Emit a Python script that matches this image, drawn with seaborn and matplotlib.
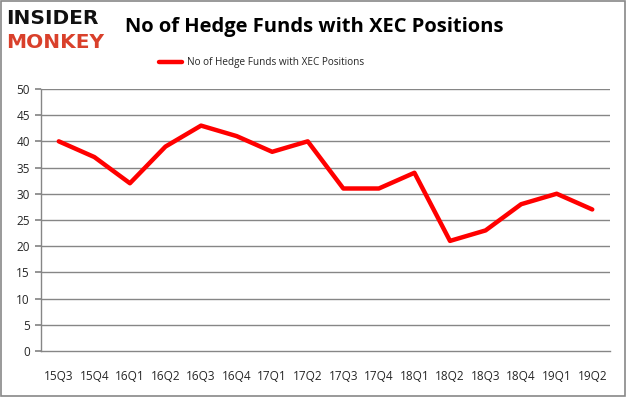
import matplotlib
matplotlib.use("Agg")
import matplotlib.pyplot as plt
import seaborn as sns
import pandas as pd
import numpy as np

quarters = ["15Q3", "15Q4", "16Q1", "16Q2", "16Q3", "16Q4", "17Q1", "17Q2",
            "17Q3", "17Q4", "18Q1", "18Q2", "18Q3", "18Q4", "19Q1", "19Q2"]
funds = [40, 37, 32, 39, 43, 41, 38, 40, 31, 31, 34, 21, 23, 28, 30, 27]
series_name = "No of Hedge Funds with XEC Positions"
yticks = [0, 5, 10, 15, 20, 25, 30, 35, 40, 45, 50]

sns.set_theme(style="white")
plt.rcParams['font.family'] = ['Open Sans', 'DejaVu Sans']

df = pd.DataFrame({"q": quarters, "v": funds, "pos": np.arange(len(quarters))})

fig = plt.figure(figsize=(6.26, 3.97), dpi=100)
ax = fig.add_axes([0.0655, 0.116, 0.909, 0.66])

for y in yticks[1:]:
    ax.axhline(y, color="#868686", lw=1.0, zorder=1)

sns.lineplot(data=df, x="pos", y="v", color="#ff0000", lw=3.2, ax=ax,
             label=series_name, zorder=3, legend=False)

ax.set_xlim(-0.5, len(quarters) - 0.5)
ax.set_ylim(0, 50)
ax.set_yticks(yticks)
ax.set_yticklabels([str(t) for t in yticks], fontsize=8.5)
ax.set_xticks(np.arange(len(quarters)))
ax.set_xticklabels(quarters, fontsize=8.5)
ax.set_xticks(np.arange(len(quarters) + 1) - 0.5, minor=True)
ax.tick_params(axis="x", which="major", length=0, pad=14)
ax.tick_params(axis="x", which="minor", length=4, color="#868686", direction="out")
ax.tick_params(axis="y", length=4, color="#868686", direction="out", pad=4, left=True)
ax.set_xlabel("")
ax.set_ylabel("")
for s in ["top", "right"]:
    ax.spines[s].set_visible(False)
for s in ["left", "bottom"]:
    ax.spines[s].set_color("#868686")
    ax.spines[s].set_linewidth(1.0)

# legend
fig.legend(handles=ax.get_lines()[-1:], labels=[series_name], loc="center",
           bbox_to_anchor=(0.418, 0.842), frameon=False, fontsize=7.2,
           handlelength=2.3, handletextpad=0.5)

# title
fig.text(0.2, 0.933, series_name, fontsize=14.5, fontweight="bold",
         ha="left", va="center", color="#000000")

# logo
fig.text(0.010, 0.953, "INSIDER", fontsize=14.5, fontweight="heavy",
         ha="left", va="center", color="#111111", family=["DejaVu Sans"])
fig.text(0.010, 0.893, "MONKEY", fontsize=14.5, fontweight="heavy",
         ha="left", va="center", color="#d9402b", family=["DejaVu Sans"])

# outer frame
fig.patches.append(plt.Rectangle((0.001, 0.002), 0.997, 0.995, transform=fig.transFigure,
                                 fill=False, edgecolor="#888888", lw=1.2))

fig.savefig("out.png", dpi=100)
